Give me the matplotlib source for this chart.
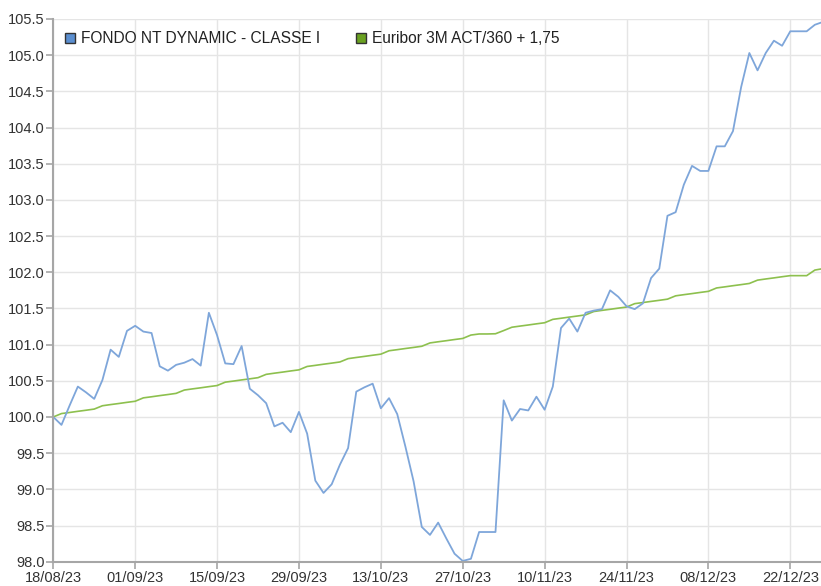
import numpy as np
import pandas as pd
import matplotlib
matplotlib.use('Agg')
import matplotlib.pyplot as plt
from matplotlib.lines import Line2D

plt.rcParams['font.family'] = ['Liberation Sans', 'DejaVu Sans']

# --- data (business days from 18/08/23) ---
dates = pd.bdate_range('2023-08-18', periods=95)

fondo = [100.00, 99.89, 100.16, 100.42, 100.34, 100.25, 100.51, 100.93, 100.83, 101.19,
         101.26, 101.18, 101.16, 100.70, 100.64, 100.72, 100.75, 100.80, 100.71, 101.44,
         101.13, 100.74, 100.73, 100.98, 100.39, 100.30, 100.19, 99.87, 99.92, 99.79,
         100.07, 99.77, 99.12, 98.95, 99.07, 99.34, 99.57, 100.35, 100.41, 100.46,
         100.12, 100.26, 100.04, 99.59, 99.11, 98.48, 98.37, 98.54, 98.32, 98.11,
         98.01, 98.04, 98.41, 98.41, 98.41, 100.23, 99.95, 100.11, 100.09, 100.28,
         100.10, 100.42, 101.23, 101.36, 101.18, 101.44, 101.47, 101.49, 101.75, 101.66,
         101.53, 101.49, 101.57, 101.92, 102.05, 102.78, 102.83, 103.21, 103.47, 103.40,
         103.40, 103.74, 103.74, 103.95, 104.56, 105.03, 104.79, 105.03, 105.20, 105.13,
         105.33, 105.33, 105.33, 105.42, 105.46]

euribor = [100.000, 100.047, 100.062, 100.078, 100.093, 100.109, 100.155, 100.171, 100.186, 100.202,
           100.217, 100.264, 100.279, 100.295, 100.310, 100.326, 100.372, 100.388, 100.403, 100.419,
           100.434, 100.481, 100.496, 100.512, 100.527, 100.543, 100.589, 100.605, 100.620, 100.636,
           100.651, 100.698, 100.713, 100.729, 100.744, 100.760, 100.806, 100.822, 100.837, 100.853,
           100.868, 100.915, 100.930, 100.946, 100.961, 100.977, 101.023, 101.039, 101.054, 101.070,
           101.085, 101.132, 101.147, 101.147, 101.150, 101.194, 101.240, 101.256, 101.271, 101.287,
           101.302, 101.349, 101.364, 101.380, 101.395, 101.411, 101.457, 101.473, 101.488, 101.504,
           101.519, 101.566, 101.581, 101.597, 101.612, 101.628, 101.674, 101.690, 101.705, 101.721,
           101.736, 101.783, 101.798, 101.814, 101.829, 101.845, 101.891, 101.907, 101.922, 101.938,
           101.953, 101.953, 101.953, 102.030, 102.050]

labels = ['FONDO NT DYNAMIC - CLASSE I', 'Euribor 3M ACT/360 + 1,75']
line_colors = ['#7ea6da', '#8dc04e']
box_colors = ['#5b8fd0', '#6aa121']

x = np.arange(len(dates))
yticks = np.arange(98.0, 105.51, 0.5)

fig = plt.figure(figsize=(8.21, 5.86), dpi=100)
ax = fig.add_axes([0.0649, 0.0415, 0.9351, 0.9261])

ax.plot(x, euribor, color=line_colors[1], linewidth=1.2)
ax.plot(x, fondo, color=line_colors[0], linewidth=1.3)

ax.set_xlim(0, 93.75)
ax.set_ylim(98.0, 105.5)
ax.set_yticks(yticks)
ax.set_yticklabels([f'{v:.1f}' for v in yticks])
xt = x[::10]
ax.set_xticks(xt)
ax.set_xticklabels([dates[i].strftime('%d/%m/%y') for i in xt])

ax.grid(True, color='#e5e5e5', linewidth=1)
ax.set_axisbelow(True)
for s in ['top', 'right']:
    ax.spines[s].set_visible(False)
for s in ['left', 'bottom']:
    ax.spines[s].set_color('#a6a6a6')
    ax.spines[s].set_linewidth(1.5)
ax.tick_params(axis='both', colors='#a6a6a6', labelcolor='#333333', labelsize=10.5,
               length=5, width=1.2)
ax.tick_params(axis='x', pad=1.5)
ax.tick_params(axis='y', pad=1)

handles = [Line2D([], [], linestyle='none', marker='s', markersize=7.5,
                  markerfacecolor=box_colors[i], markeredgecolor='#333333',
                  markeredgewidth=1.0) for i in range(2)]
ax.legend(handles, labels, loc='upper left', bbox_to_anchor=(0.0, 0.998),
          ncol=2, frameon=False, fontsize=11.2, handlelength=0.8, handletextpad=0.3,
          columnspacing=2.2, borderaxespad=0.3, labelcolor='#222222')

fig.savefig('out.png', dpi=100)
